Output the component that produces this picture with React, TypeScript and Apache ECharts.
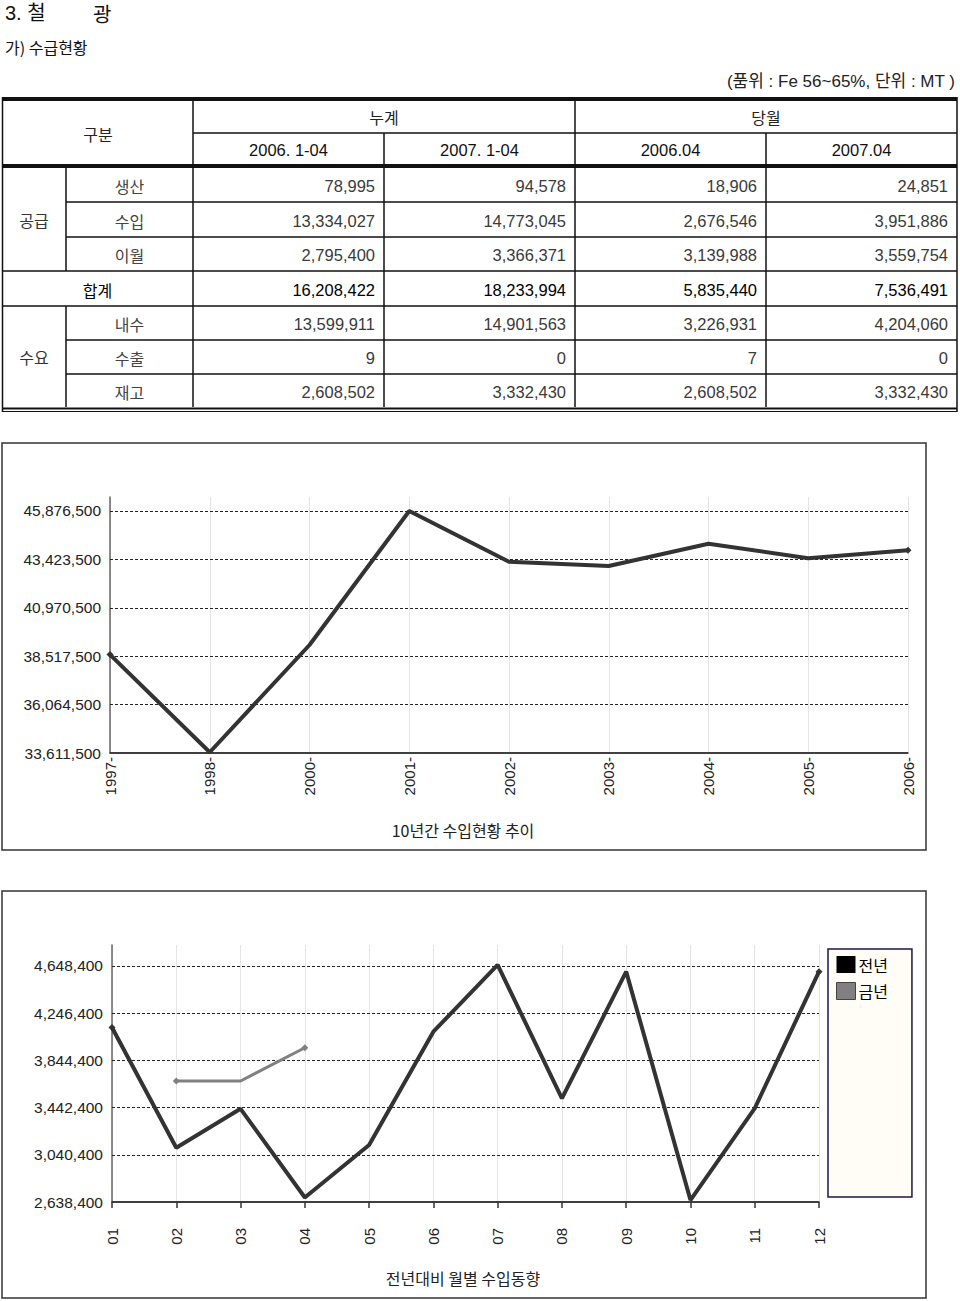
import React, { useEffect, useRef } from "react";
import * as echarts from "echarts";

// ---------- texts ----------
const pageTitleA = "3. 철";
const pageTitleB = "광";
const sectionTitle = "가) 수급현황";
const unitNote = "(품위 : Fe 56~65%, 단위 : MT )";

// ---------- table ----------
const headGroup = "구분";
const headTop = ["누계", "당월"];
const headSub = ["2006. 1-04", "2007. 1-04", "2006.04", "2007.04"];
const groupLabels = ["공급", "수요"];
const rowLabels = ["생산", "수입", "이월", "합계", "내수", "수출", "재고"];
const col2006Cum = ["78,995", "13,334,027", "2,795,400", "16,208,422", "13,599,911", "9", "2,608,502"];
const col2007Cum = ["94,578", "14,773,045", "3,366,371", "18,233,994", "14,901,563", "0", "3,332,430"];
const col2006Apr = ["18,906", "2,676,546", "3,139,988", "5,835,440", "3,226,931", "7", "2,608,502"];
const col2007Apr = ["24,851", "3,951,886", "3,559,754", "7,536,491", "4,204,060", "0", "3,332,430"];

// ---------- chart 1 ----------
const yearCats = ["1997-", "1998-", "2000-", "2001-", "2002-", "2003-", "2004-", "2005-", "2006-"];
const yearImports = [38600000, 33650000, 39085000, 45876500, 43306000, 43089000, 44219500, 43479500, 43884500];
const yearTicks = [33611500, 36064500, 38517500, 40970500, 43423500, 45876500];
const yearTitle = "10년간 수입현황 추이";

// ---------- chart 2 ----------
const monthCats = ["01", "02", "03", "04", "05", "06", "07", "08", "09", "10", "11", "12"];
const prevYear = [4125000, 3100000, 3432000, 2676546, 3124000, 4089000, 4657000, 3521000, 4600000, 2655000, 3436000, 4600000];
const thisYear = [null, 3669000, 3669000, 3951886, null, null, null, null, null, null, null, null];
const monthTicks = [2638400, 3040400, 3442400, 3844400, 4246400, 4648400];
const monthTitle = "전년대비 월별 수입동향";
const legendNames = ["전년", "금년"];

const NUM_FONT = "'Liberation Sans', 'Noto Sans CJK KR', sans-serif";
const KR_FONT = "'Noto Sans CJK KR', 'Liberation Sans', sans-serif";

const fmt = (v: number) => Number(v).toLocaleString("en-US");

function txt(text: string, x: number, y: number, o: any = {}) {
  const align = o.align || "left";
  return {
    type: "text",
    x,
    y,
    silent: true,
    style: {
      text,
      fill: o.fill || "#333",
      fontSize: o.fontSize || 16,
      fontFamily: o.fontFamily || KR_FONT,
      fontWeight: o.fontWeight || "normal",
      align,
      textAlign: align,
      verticalAlign: "middle",
      textVerticalAlign: "middle",
    },
  };
}

function ln(x1: number, y1: number, x2: number, y2: number, w = 1.5, c = "#111") {
  return {
    type: "line",
    silent: true,
    shape: { x1, y1, x2, y2 },
    style: { stroke: c, lineWidth: w },
  };
}

function buildTable() {
  const colX = [2, 66, 193, 384, 575, 766, 957];
  const rowY = [168, 202, 237, 271, 306, 340, 374, 407];
  const els: any[] = [];
  // borders
  els.push(ln(2, 99, 957, 99, 4));
  els.push(ln(2, 166, 957, 166, 4));
  els.push(ln(2.5, 97, 2.5, 412, 1.5));
  els.push(ln(957, 97, 957, 412, 1.5));
  // header
  els.push(ln(193, 101, 193, 164));
  els.push(ln(575, 101, 575, 164));
  els.push(ln(384, 133, 384, 164));
  els.push(ln(766, 133, 766, 164));
  els.push(ln(193, 133, 957, 133));
  // body verticals
  [193, 384, 575, 766].forEach((x) => els.push(ln(x, 168, x, 407)));
  els.push(ln(66, 168, 66, 271));
  els.push(ln(66, 306, 66, 407));
  // body horizontals
  [202, 237, 340, 374].forEach((y) => els.push(ln(66, y, 957, y)));
  [271, 306].forEach((y) => els.push(ln(2, y, 957, y)));
  els.push(ln(2, 408.5, 957, 408.5, 2));
  els.push(ln(2, 411.5, 957, 411.5, 1));

  // header texts
  els.push(txt(headGroup, 98, 134, { align: "center", fill: "#222" }));
  els.push(txt(headTop[0], (193 + 575) / 2, 117, { align: "center", fill: "#222" }));
  els.push(txt(headTop[1], (575 + 957) / 2, 117, { align: "center", fill: "#222" }));
  headSub.forEach((h, i) => {
    els.push(txt(h, (colX[i + 2] + colX[i + 3]) / 2, 150, { align: "center", fill: "#111", fontFamily: NUM_FONT, fontSize: 16.5 }));
  });
  // group texts
  els.push(txt(groupLabels[0], 34, (rowY[0] + rowY[3]) / 2, { align: "center" }));
  els.push(txt(groupLabels[1], 34, (rowY[4] + rowY[7]) / 2, { align: "center" }));
  const cols = [col2006Cum, col2007Cum, col2006Apr, col2007Apr];
  rowLabels.forEach((r, i) => {
    const cy = (rowY[i] + rowY[i + 1]) / 2 + 1;
    const isSum = i === 3;
    els.push(txt(r, isSum ? 97.5 : 129.5, cy, { align: "center", fill: isSum ? "#000" : "#444" }));
    cols.forEach((col, k) => {
      els.push(
        txt(col[i], colX[k + 3] - 9, cy, {
          align: "right",
          fill: isSum ? "#000" : "#3a3a3a",
          fontFamily: NUM_FONT,
          fontSize: 16.5,
        })
      );
    });
  });
  return els;
}

export default function App() {
  const ref = useRef<HTMLDivElement>(null);
  useEffect(() => {
    if (!ref.current) return;
    const chart = echarts.init(ref.current, null, { renderer: "svg" });

    const endSymbol = (arr: (number | null)[]) => (_v: any, p: any) => {
      const idx = arr.map((v, i) => (v == null ? -1 : i)).filter((i) => i >= 0);
      return p.dataIndex === idx[0] || p.dataIndex === idx[idx.length - 1] ? 7 : 0;
    };

    const tickMarkLine = (ticks: number[], min: number) => ({
      silent: true,
      symbol: ["none", "none"],
      z: 1,
      label: {
        show: true,
        position: "start",
        distance: 9,
        formatter: (p: any) => fmt(p.value),
        color: "#222",
        fontSize: 15.5,
        fontFamily: NUM_FONT,
      },
      lineStyle: { color: "#222", type: [3, 2], width: 1 },
      emphasis: { disabled: true },
      data: ticks.map((v) => ({
        yAxis: v,
        lineStyle: v === min ? { color: "#333", type: "solid", width: 1.5 } : undefined,
      })),
    });

    const graphic: any[] = [
      txt(pageTitleA, 5, 13, { fontSize: 20, fill: "#111", fontFamily: NUM_FONT }),
      txt(pageTitleB, 93, 13, { fontSize: 20, fill: "#111" }),
      txt(sectionTitle, 5, 47, { fontSize: 16, fill: "#111" }),
      txt(unitNote, 955, 81, { fontSize: 17, fill: "#222", align: "right", fontFamily: NUM_FONT }),
      ...buildTable(),
      {
        type: "rect",
        silent: true,
        shape: { x: 2, y: 443, width: 924, height: 407 },
        style: { fill: "transparent", stroke: "#333", lineWidth: 1.5 },
      },
      {
        type: "rect",
        silent: true,
        shape: { x: 2, y: 891, width: 924, height: 407 },
        style: { fill: "transparent", stroke: "#333", lineWidth: 1.5 },
      },
      txt(yearTitle, 463, 830, { align: "center", fontSize: 16, fill: "#222" }),
      txt(monthTitle, 463, 1278, { align: "center", fontSize: 16, fill: "#222" }),
    ];

    const option: any = {
      animation: false,
      textStyle: { fontFamily: NUM_FONT },
      graphic,
      grid: [
        { left: 110, top: 497, width: 798, height: 256, containLabel: false },
        { left: 112, top: 945, width: 707, height: 257, containLabel: false },
      ],
      legend: {
        data: [
          { name: legendNames[0], itemStyle: { color: "#000" } },
          { name: legendNames[1], itemStyle: { color: "#808080", borderColor: "#444", borderWidth: 1 } },
        ],
        orient: "vertical",
        left: 828,
        top: 949,
        icon: "rect",
        itemWidth: 19,
        itemHeight: 17,
        itemGap: 9,
        padding: [7, 24, 197, 8],
        backgroundColor: "#fffdf5",
        borderColor: "#1a1a40",
        borderWidth: 1.5,
        borderRadius: 0,
        selectedMode: false,
        textStyle: { fontSize: 16, color: "#000", fontFamily: KR_FONT, padding: [0, 0, 0, -2] },
      },
      xAxis: [
        {
          type: "category",
          gridIndex: 0,
          data: yearCats,
          boundaryGap: false,
          axisLine: { show: true, lineStyle: { color: "#333", width: 1.5 } },
          axisTick: { show: false },
          splitLine: { show: true, interval: 0, lineStyle: { color: "#e4e4e4", width: 1 } },
          axisLabel: { interval: 0, rotate: 90, margin: 4, fontSize: 15, color: "#222", fontFamily: NUM_FONT },
        },
        {
          type: "category",
          gridIndex: 1,
          data: monthCats,
          boundaryGap: false,
          axisLine: { show: true, lineStyle: { color: "#333", width: 1.5 } },
          axisTick: { show: true, interval: 0, length: 6, lineStyle: { color: "#333", width: 1.5 } },
          splitLine: { show: true, interval: 0, lineStyle: { color: "#e4e4e4", width: 1 } },
          axisLabel: { interval: 0, rotate: 90, margin: 26, fontSize: 15, color: "#222", fontFamily: NUM_FONT },
        },
      ],
      yAxis: [
        {
          type: "value",
          gridIndex: 0,
          min: yearTicks[0],
          max: 46586000,
          axisLine: { show: true, lineStyle: { color: "#666", width: 1.5 } },
          axisTick: { show: false },
          axisLabel: { show: false },
          splitLine: { show: false },
        },
        {
          type: "value",
          gridIndex: 1,
          min: monthTicks[0],
          max: 4827000,
          axisLine: { show: true, lineStyle: { color: "#666", width: 1.5 } },
          axisTick: { show: false },
          axisLabel: { show: false },
          splitLine: { show: false },
        },
      ],
      series: [
        {
          type: "line",
          name: "수입",
          xAxisIndex: 0,
          yAxisIndex: 0,
          data: yearImports,
          clip: false,
          z: 3,
          color: "#333",
          lineStyle: { color: "#333", width: 4 },
          symbol: "diamond",
          symbolSize: endSymbol(yearImports),
          itemStyle: { color: "#333" },
          emphasis: { disabled: true },
          markLine: tickMarkLine(yearTicks, yearTicks[0]),
        },
        {
          type: "line",
          name: legendNames[0],
          xAxisIndex: 1,
          yAxisIndex: 1,
          data: prevYear,
          clip: false,
          z: 3,
          color: "#333",
          lineStyle: { color: "#333", width: 4 },
          symbol: "diamond",
          symbolSize: endSymbol(prevYear),
          itemStyle: { color: "#333" },
          emphasis: { disabled: true },
          markLine: tickMarkLine(monthTicks, monthTicks[0]),
        },
        {
          type: "line",
          name: legendNames[1],
          xAxisIndex: 1,
          yAxisIndex: 1,
          data: thisYear,
          clip: false,
          z: 4,
          color: "#808080",
          lineStyle: { color: "#808080", width: 3 },
          symbol: "diamond",
          symbolSize: endSymbol(thisYear),
          itemStyle: { color: "#808080" },
          emphasis: { disabled: true },
        },
      ],
    };
    chart.setOption(option);
    return () => chart.dispose();
  }, []);

  return (
    <div
      ref={ref}
      style={{ position: "absolute", left: 0, top: 0, width: 960, height: 1301, background: "#fff" }}
    />
  );
}
